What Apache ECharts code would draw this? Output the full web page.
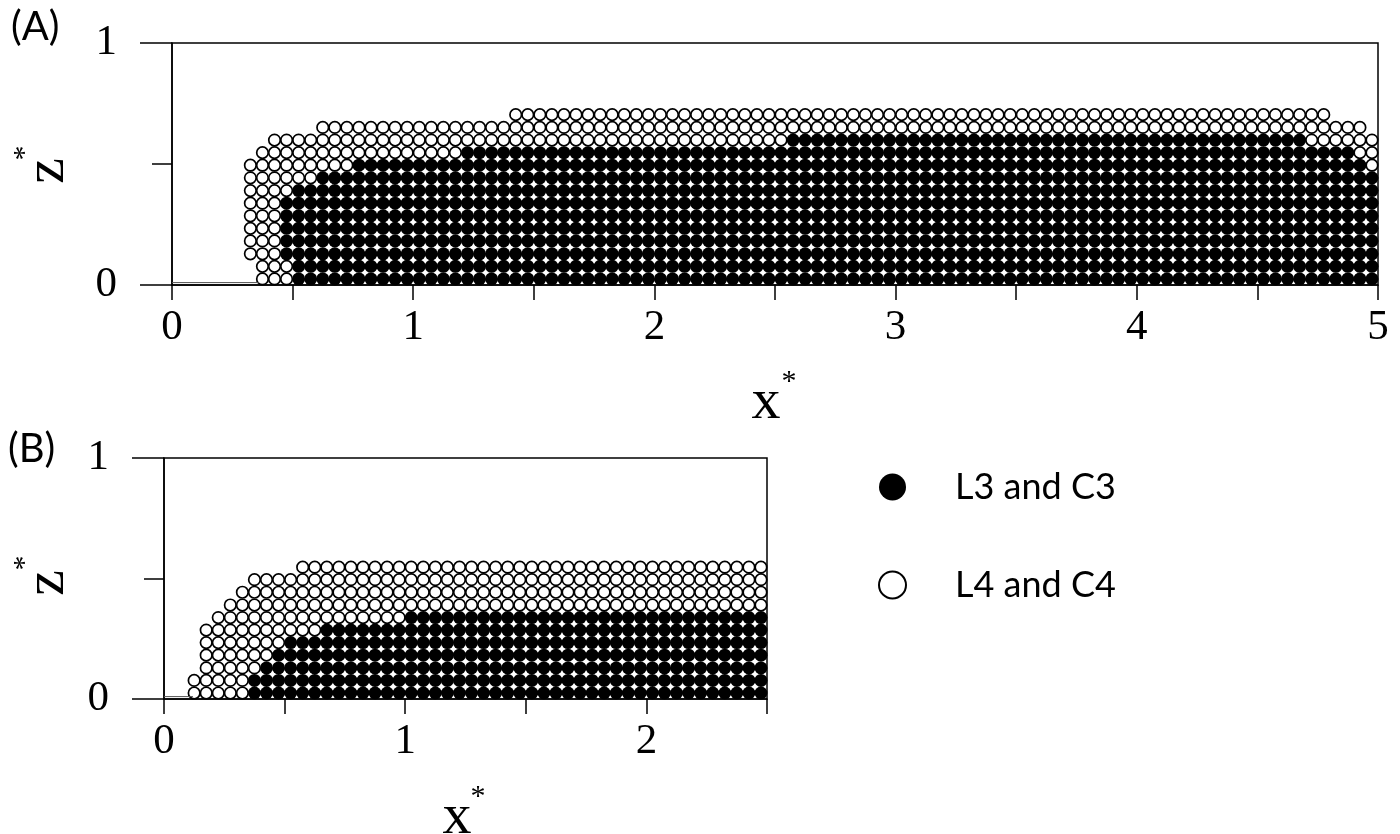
<!DOCTYPE html>
<html>
<head>
<meta charset="utf-8">
<script src="https://cdn.jsdelivr.net/npm/echarts@6.0.0/dist/echarts.min.js"></script>
<style>
  html, body { margin: 0; padding: 0; background: #fff; }
  #chart { width: 1400px; height: 834px; }
</style>
</head>
<body>
<div id="chart"></div>
<script>
// grid step along x* between particle centres
var step = 0.05;

// z* of each particle row (bottom to top), same in both panels
var rowZ = [0.025, 0.077, 0.129, 0.182, 0.234, 0.286, 0.338, 0.390, 0.443, 0.495, 0.547, 0.599, 0.651, 0.704];

// panel A: x* runs [from, to] for each row
var blackA = [
	[[0.525, 4.975]],
	[[0.525, 4.975]],
	[[0.475, 4.975]],
	[[0.475, 4.975]],
	[[0.475, 4.975]],
	[[0.475, 4.975]],
	[[0.475, 4.975]],
	[[0.525, 4.975]],
	[[0.625, 4.975]],
	[[0.775, 4.925]],
	[[1.225, 4.875]],
	[[2.575, 4.675]],
	[],
	[]
];
var openA = [
	[[0.375, 0.475]],
	[[0.375, 0.475]],
	[[0.325, 0.425]],
	[[0.325, 0.425]],
	[[0.325, 0.425]],
	[[0.325, 0.425]],
	[[0.325, 0.425]],
	[[0.325, 0.475]],
	[[0.325, 0.575]],
	[[0.325, 0.725], [4.975, 4.975]],
	[[0.375, 1.175], [4.925, 4.975]],
	[[0.425, 2.525], [4.725, 4.975]],
	[[0.625, 4.925]],
	[[1.425, 4.775]]
];

// panel B
var blackB = [
	[[0.375, 2.475]],
	[[0.375, 2.475]],
	[[0.425, 2.475]],
	[[0.475, 2.475]],
	[[0.525, 2.475]],
	[[0.675, 2.475]],
	[[1.025, 2.475]],
	[],
	[],
	[],
	[]
];
var openB = [
	[[0.125, 0.325]],
	[[0.125, 0.325]],
	[[0.175, 0.375]],
	[[0.175, 0.425]],
	[[0.175, 0.475]],
	[[0.175, 0.625]],
	[[0.225, 0.975]],
	[[0.275, 2.475]],
	[[0.325, 2.475]],
	[[0.375, 2.475]],
	[[0.575, 2.475]]
];

// thin bed line at the toe
var groundA = [[0, 0.01], [0.36, 0.01]];
var groundB = [[0, 0.01], [0.12, 0.01]];

var xTicksA = [0, 1, 2, 3, 4, 5];
var xTicksB = [0, 1, 2];
var zTicks = [0, 1];

// expand row runs into particle points
var toPoints = function(runs) {
	var pts = [];
	runs.forEach(function(row, r) {
		row.forEach(function(run) {
			var n = Math.round((run[1] - run[0]) / step);
			for (var k = 0; k <= n; k++) {
				pts.push([+(run[0] + k * step).toFixed(3), rowZ[r]]);
			}
		});
	});
	return pts;
};

var serif = '"Liberation Serif", "DejaVu Serif", serif';
var black = '#000';

var xAxisOf = function(idx, max, ticks) {
	return {
		gridIndex: idx, type: 'value', min: 0, max: max, interval: 0.5,
		axisLine: { lineStyle: { color: black, width: 1.5 } },
		axisTick: { length: 15, lineStyle: { color: black, width: 1.5 } },
		splitLine: { show: false },
		axisLabel: {
			margin: 21, color: black, fontFamily: serif, fontSize: 43,
			formatter: function(v) { return ticks.indexOf(v) >= 0 ? String(v) : ''; }
		}
	};
};
var yAxisOf = function(idx) {
	return {
		gridIndex: idx, type: 'value', min: 0, max: 1, interval: 1,
		axisLine: { lineStyle: { color: black, width: 1.5 } },
		axisTick: { length: 32, lineStyle: { color: black, width: 1.5 } },
		minorTick: { show: true, splitNumber: 2, length: 20, lineStyle: { color: black, width: 1.5 } },
		splitLine: { show: false },
		axisLabel: {
			margin: 55, color: black, fontFamily: serif, fontSize: 43,
			formatter: function(v) { return zTicks.indexOf(v) >= 0 ? String(v) : ''; }
		}
	};
};

var blackSeries = function(idx, data) {
	return {
		name: 'L3 and C3', type: 'scatter', xAxisIndex: idx, yAxisIndex: idx,
		symbol: 'circle', symbolSize: 13, silent: true,
		itemStyle: { color: black, opacity: 1 },
		data: data
	};
};
var openSeries = function(idx, data) {
	return {
		name: 'L4 and C4', type: 'scatter', xAxisIndex: idx, yAxisIndex: idx,
		symbol: 'circle', symbolSize: 11.5, silent: true,
		itemStyle: { color: '#fff', borderColor: black, borderWidth: 1.7, opacity: 1 },
		data: data
	};
};
var groundSeries = function(idx, data) {
	return {
		type: 'line', xAxisIndex: idx, yAxisIndex: idx, data: data, symbol: 'none',
		silent: true, lineStyle: { color: '#555', width: 1 }
	};
};

var label = function(text, x, y, size, rot) {
	return {
		type: 'text', x: x, y: y, rotation: rot || 0, silent: true,
		style: { text: text, font: size + 'px ' + serif, fill: black, align: 'center', verticalAlign: 'middle' }
	};
};

var myChart = echarts.init(document.getElementById('chart'));
var option = {
	animation: false,
	backgroundColor: '#fff',
	grid: [
		{ left: 172, top: 43, width: 1206, height: 242, show: true, borderColor: black, borderWidth: 1.5 },
		{ left: 164, top: 458, width: 603, height: 241, show: true, borderColor: black, borderWidth: 1.5 }
	],
	xAxis: [xAxisOf(0, 5, xTicksA), xAxisOf(1, 2.5, xTicksB)],
	yAxis: [yAxisOf(0), yAxisOf(1)],
	legend: {
		data: ['L3 and C3', 'L4 and C4'],
		orient: 'vertical', left: 878, top: 469, padding: 0,
		itemWidth: 27, itemHeight: 27, itemGap: 62,
		selectedMode: false,
		textStyle: { fontFamily: 'Lato', fontSize: 36, color: black, padding: [0, 0, 0, 44] }
	},
	series: [
		groundSeries(0, groundA),
		blackSeries(0, toPoints(blackA)),
		openSeries(0, toPoints(openA)),
		groundSeries(1, groundB),
		blackSeries(1, toPoints(blackB)),
		openSeries(1, toPoints(openB))
	],
	graphic: [
		{ type: 'text', left: 11, top: 7, style: { text: '(A)', font: '40px Lato', fill: black } },
		{ type: 'text', left: 8, top: 429, style: { text: '(B)', font: '40px Lato', fill: black } },
		label('x', 766, 403, 58),
		label('*', 789, 382, 30),
		label('z', 48, 171, 58, Math.PI / 2),
		label('*', 25, 153, 30, Math.PI / 2),
		label('x', 457, 818, 58),
		label('*', 478, 797, 30),
		label('z', 48, 583, 58, Math.PI / 2),
		label('*', 25, 563, 30, Math.PI / 2)
	]
};
myChart.setOption(option);
</script>
</body>
</html>
